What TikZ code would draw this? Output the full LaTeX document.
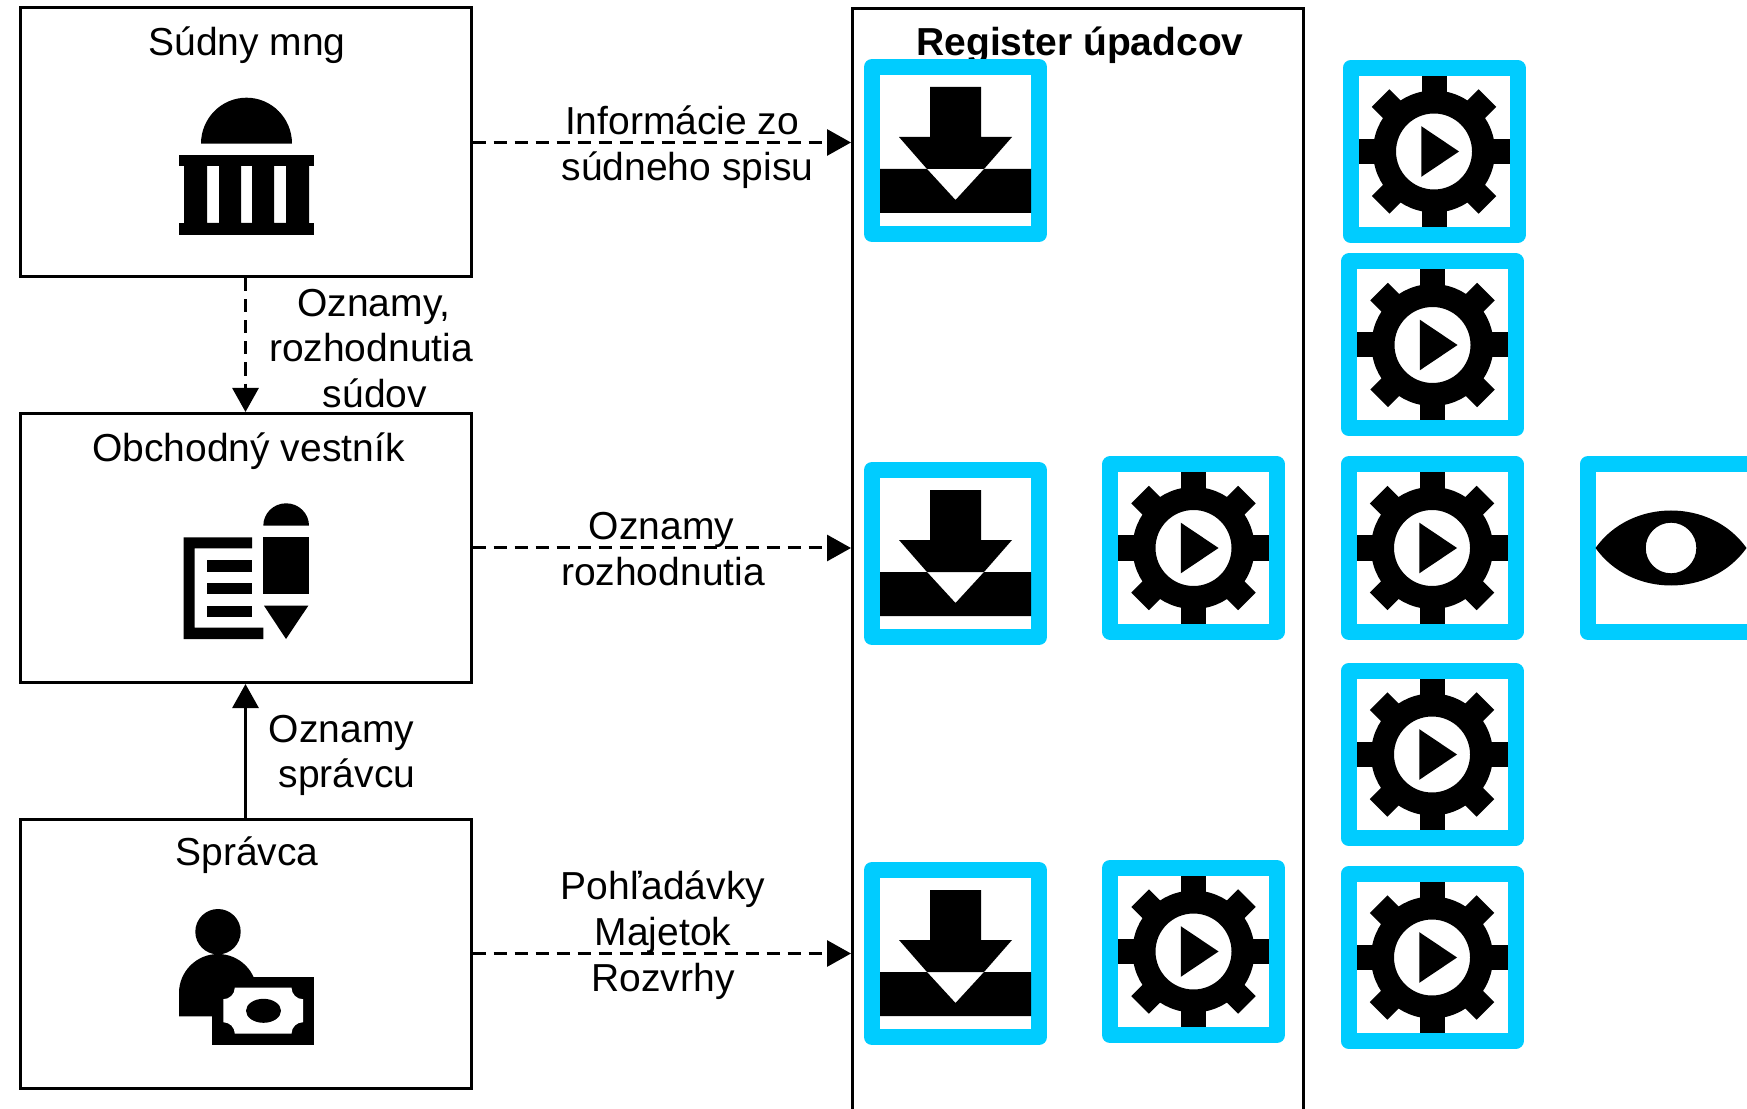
\documentclass[tikz,border=0pt]{standalone}
\usepackage{fontspec}
\setmainfont{Liberation Sans}
\usepackage{xcolor}
\usepackage{tikz}
\usetikzlibrary{arrows.meta}
\definecolor{tileblue}{HTML}{00CCFF}
\tikzset{bx/.style={rectangle,draw,line width=0.03cm,minimum width=4.51cm,minimum height=2.69cm,inner sep=0pt},
    lbl/.style={align=center,inner sep=0pt,font=\fontsize{11.1}{13}\selectfont},
    tile/.style={rectangle,draw=tileblue,fill=white,line width=0.16cm,line join=round,minimum width=1.67cm,minimum height=1.67cm,inner sep=0pt},
    dsh/.style={line width=0.03cm,dash pattern=on 0.13cm off 0.08cm},
    downicon/.pic={
        \fill (-0.255,0.635) -- (0.255,0.635) -- (0.255,0.135) -- (0.565,0.135) -- (0.285,-0.185) -- (-0.285,-0.185) -- (-0.565,0.135) -- (-0.255,0.135) -- cycle;
        \fill (-0.755,-0.185) -- (-0.285,-0.185) -- (0,-0.495) -- (0.285,-0.185) -- (0.755,-0.185) -- (0.755,-0.625) -- (-0.755,-0.625) -- cycle;
    },
    gearicon/.pic={
        \fill[even odd rule] (0,0) circle (0.61) (0,0) circle (0.38);
        \foreach \a in {0,45,...,315}
            \fill[rotate=\a] (0.5,-0.125) rectangle (0.755,0.125);
        \fill (-0.127,0.253) -- (0.25,0) -- (-0.127,-0.253) -- cycle;
    },
    eyeicon/.pic={
        \fill[even odd rule] (-0.755,0) .. controls (-0.4,0.5) and (0.4,0.5) .. (0.755,0) .. controls (0.4,-0.5) and (-0.4,-0.5) .. (-0.755,0) (0,0) circle (0.253);
    },
    courticon/.pic={
        \fill (-0.445,-0.012) arc (180:0:0.455 and 0.46) -- cycle;
        \fill (-0.665,-0.125) rectangle (0.685,-0.235);
        \fill (-0.665,-0.805) rectangle (0.685,-0.922);
        \fill[even odd rule] (-0.615,-0.235) rectangle (0.635,-0.805)
            (-0.385,-0.235) rectangle (-0.265,-0.805)
            (-0.045,-0.235) rectangle (0.065,-0.805)
            (0.285,-0.235) rectangle (0.405,-0.805);
    },
    newsicon/.pic={
        \fill (0.178,0.223) arc (180:0:0.2285 and 0.224) -- cycle;
        \fill (0.178,0.107) rectangle (0.635,-0.463);
        \fill (0.185,-0.577) -- (0.628,-0.577) -- (0.405,-0.91) -- cycle;
        \fill (-0.618,0.107) -- (0.065,0.107) -- (0.065,-0.003) -- (-0.508,-0.003) -- (-0.508,-0.797) -- (0.178,-0.797) -- (0.178,-0.91) -- (-0.618,-0.91) -- cycle;
        \fill (-0.382,-0.123) rectangle (0.065,-0.237);
        \fill (-0.382,-0.353) rectangle (0.065,-0.463);
        \fill (-0.382,-0.577) rectangle (0.065,-0.687);
    },
    payicon/.pic={
        \fill (-0.275,0.218) circle (0.227);
        \fill (-0.665,-0.628) -- (-0.665,-0.395) arc (180:0:0.39) -- (0.115,-0.628) -- cycle;
        \fill (-0.332,-0.232) rectangle (0.685,-0.915);
        \fill[white] (-0.107,-0.342) -- (0.46,-0.342) arc (180:270:0.115) -- (0.575,-0.687) arc (90:180:0.115) -- (-0.107,-0.802) arc (0:90:0.115) -- (-0.222,-0.457) arc (-90:0:0.115) -- cycle;
        \fill (0.18,-0.573) ellipse (0.175 and 0.12);
    }}

\begin{document}
\begin{tikzpicture}[>={Triangle[length=0.24cm,width=0.26cm]}]
        \useasboundingbox (0,0) rectangle (17.47,11.08);
        \clip (0,0) rectangle (17.47,11.08);

        \node[bx] (sud)at (2.455,9.655) {};
        \node[bx] (obch)at (2.455,5.60) {};
        \node[bx] (spr)at (2.455,1.545) {};
        \node[bx,anchor=north,minimum width=4.51cm,minimum height=11.6cm] (reg)at (10.78,11.005) {};

        \node[lbl] (sudt)at (2.47,10.63) {Súdny mng};
        \node[lbl] (obcht)at (2.485,6.57) {Obchodný vestník};
        \node[lbl] (sprt)at (2.47,2.53) {Správca};
        \node[lbl,font=\fontsize{11.1}{13}\selectfont\bfseries] (regt)at (10.80,10.63) {Register úpadcov};

        \pic at (sud) {courticon};
        \pic at (obch) {newsicon};
        \pic at (spr) {payicon};

        \draw [dsh,->] (sud.east) to (sud.east -| reg.west);
        \draw [dsh,->] (obch.east) to (obch.east -| reg.west);
        \draw [dsh,->] (spr.east) to (spr.east -| reg.west);
        \draw [dsh,->] (sud) to (obch);
        \draw [line width=0.03cm,->] (spr) to (obch);

        \node[lbl] (l1)at (6.875,9.605) {Informácie zo\hspace*{0.108cm}\\súdneho spisu};
        \node[lbl] (l2)at (3.71,7.595) {\hspace*{0.06cm}Oznamy,\\rozhodnutia\\\hspace*{0.08cm}súdov};
        \node[lbl] (l3)at (6.63,5.59) {Oznamy\hspace*{0.03cm}\\rozhodnutia};
        \node[lbl] (l4)at (3.47,3.525) {Oznamy\hspace*{0.108cm}\\správcu};
        \node[lbl] (l5)at (6.63,1.73) {Pohľadávky\\Majetok\\Rozvrhy};

        \node[tile] (d1)at (9.555,9.575) {};
        \node[tile] (d2)at (9.555,5.545) {};
        \node[tile] (d3)at (9.555,1.545) {};
        \node[tile] (g1)at (11.935,5.60) {};
        \node[tile] (g2)at (11.935,1.565) {};
        \node[tile] (g3)at (14.34,9.565) {};
        \node[tile] (g4)at (14.325,7.63) {};
        \node[tile] (g5)at (14.32,5.60) {};
        \node[tile] (g6)at (14.32,3.535) {};
        \node[tile] (g7)at (14.32,1.505) {};
        \node[tile] (e1)at (16.71,5.60) {};

        \pic at (d1) {downicon};
        \pic at (d2) {downicon};
        \pic at (d3) {downicon};
        \pic at (g1) {gearicon};
        \pic at (g2) {gearicon};
        \pic at (g3) {gearicon};
        \pic at (g4) {gearicon};
        \pic at (g5) {gearicon};
        \pic at (g6) {gearicon};
        \pic at (g7) {gearicon};
        \pic at (e1) {eyeicon};
    \end{tikzpicture}
\end{document}
